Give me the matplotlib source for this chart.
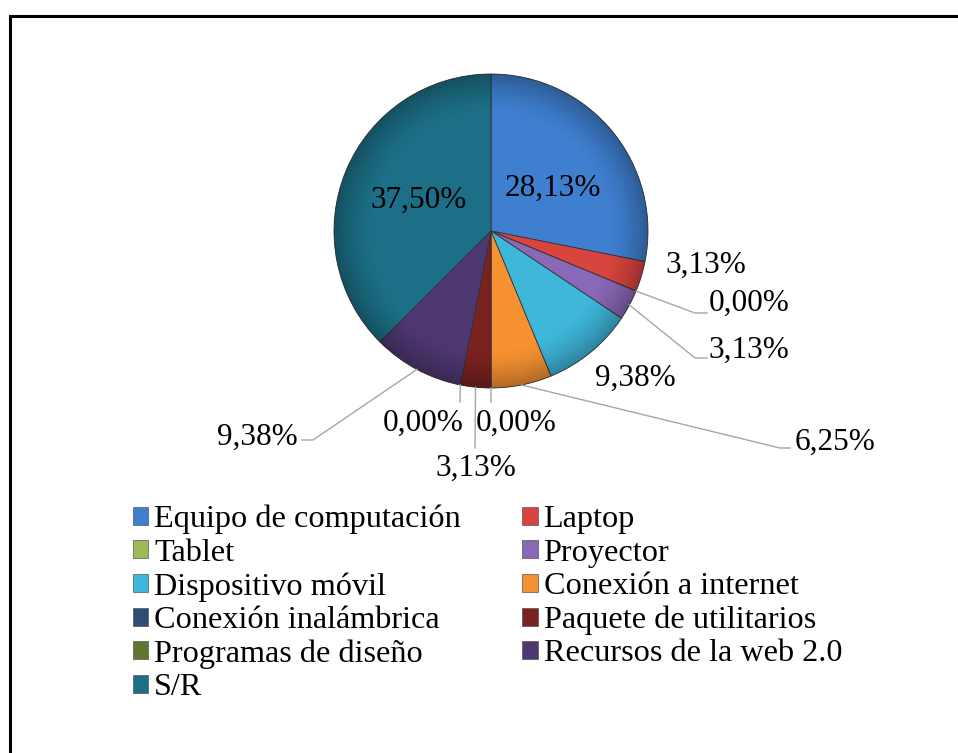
import matplotlib
matplotlib.use('Agg')
import matplotlib.pyplot as plt
from matplotlib.patches import Patch, Rectangle, Circle
import numpy as np

plt.rcParams['font.family'] = ['Liberation Serif', 'DejaVu Serif']

# data
categorias = ['Equipo de computación', 'Laptop', 'Tablet', 'Proyector',
              'Dispositivo móvil', 'Conexión a internet', 'Conexión inalámbrica',
              'Paquete de utilitarios', 'Programas de diseño',
              'Recursos de la web 2.0', 'S/R']
porcentajes = [28.13, 3.13, 0.00, 3.13, 9.38, 6.25, 0.00, 3.13, 0.00, 9.38, 37.50]

colores = ['#3F7FCF', '#D9453E', '#9BBB59', '#8A68B8', '#3FB7DB', '#F79232',
           '#2C4D75', '#7B2221', '#5F7530', '#4E3872', '#1C6F86']

# layout (pixel coords, y measured from top)
W, H = 958, 753
cx, cy, R = 491, 231, 157
label_pos = [(553, 188), (706, 265), (749, 303), (749, 350), (635, 378),
             (835, 442), (516, 423), (476, 468), (423, 423), (257, 437),
             (419, 200)]
leaders = [None, None, [(695, 313), (707, 313)], [(695, 358), (707, 358)],
           None, [(780, 448), (790, 448)], [(491, 402)], [(475, 448)],
           [(460, 402)], [(313, 440), (302, 440)], None]


def px(p):
    return p[0], H - p[1]


fig = plt.figure(figsize=(W / 100, H / 100), dpi=100)
ax = fig.add_axes([0, 0, 1, 1])

wedges, _ = ax.pie(porcentajes, colors=colores, startangle=90, counterclock=False,
                   center=(cx, H - cy), radius=R,
                   wedgeprops=dict(edgecolor='#333333', linewidth=0.6))

# soft darkening towards the rim, like the bevelled Excel pie
n = 300
g = np.linspace(-1, 1, n)
xx, yy = np.meshgrid(g, g)
rr = np.sqrt(xx ** 2 + yy ** 2)
alpha = np.clip((rr - 0.75) / 0.25, 0, 1) ** 1.5 * 0.28
shade = np.zeros((n, n, 4))
shade[..., 3] = alpha
im = ax.imshow(shade, extent=(cx - R, cx + R, H - cy - R, H - cy + R), zorder=2)
im.set_clip_path(Circle((cx, H - cy), R, transform=ax.transData))

ax.set_xlim(0, W)
ax.set_ylim(0, H)
ax.set_aspect('equal')
ax.axis('off')

total = sum(porcentajes)
acum = 0
for i, v in enumerate(porcentajes):
    mid = (acum + v / 2) / total * 2 * np.pi
    acum += v
    texto = f'{v:.2f}'.replace('.', ',') + '%'
    lx, ly = px(label_pos[i])
    ax.text(lx, ly, texto, fontsize=22.5, ha='center', va='center', color='black',
            zorder=5)
    if leaders[i] is not None:
        ex = cx + R * np.sin(mid)
        ey = cy - R * np.cos(mid)
        pts = [(ex, ey)] + leaders[i]
        xs = [p[0] for p in pts]
        ys = [H - p[1] for p in pts]
        ax.plot(xs, ys, color='#A6A6A6', lw=1)

# legend: reorder so it reads row by row
orden = list(range(0, 11, 2)) + list(range(1, 11, 2))
handles = [Patch(facecolor=colores[k], edgecolor='#555555', linewidth=0.5) for k in orden]
labels = [categorias[k] for k in orden]
ax.legend(handles, labels, loc='upper left', bbox_to_anchor=(133, H - 505),
          bbox_transform=ax.transData, ncol=2, frameon=False, fontsize=23.2,
          handlelength=0.48, handleheight=0.48, handletextpad=0.18,
          columnspacing=1.9, labelspacing=0.135, borderpad=0, borderaxespad=0)

# outer border (only top and left visible)
ax.add_patch(Rectangle((10, -20), W + 20, H - 16 + 20, fill=False,
                       edgecolor='black', linewidth=2.2, clip_on=False))

fig.savefig('out.png', dpi=100)
